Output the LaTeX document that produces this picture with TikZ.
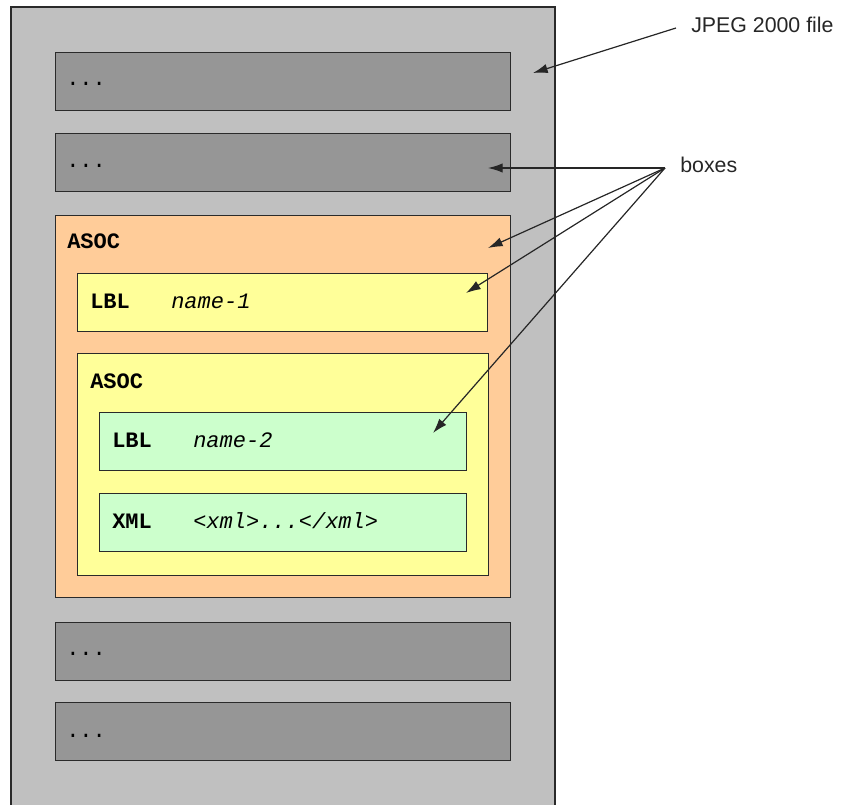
\documentclass[tikz,border=0pt]{standalone}
\usepackage{fontspec}
\setmainfont{Liberation Sans}
\newfontfamily\monofont{Liberation Mono}
\usetikzlibrary{arrows.meta}
\definecolor{outergrey}{HTML}{C0C0C0}
\definecolor{boxgrey}{HTML}{969696}
\definecolor{asocorange}{HTML}{FFCC99}
\definecolor{asocyellow}{HTML}{FFFF99}
\definecolor{lblgreen}{HTML}{CCFFCC}
\definecolor{edge}{HTML}{2A2A2A}
\tikzset{
  boxshape/.style={draw=edge, line width=1.1pt, anchor=north west, inner sep=0pt, rectangle},
  greybox/.style={boxshape, fill=boxgrey, minimum width=455*0.75pt, minimum height=58*0.75pt},
  monotext/.style={anchor=base west, inner sep=0pt, font=\monofont\fontsize{16.5}{19}\selectfont},
  tagtext/.style={monotext, font=\monofont\bfseries\fontsize{16.5}{19}\selectfont},
  nametext/.style={monotext, font=\monofont\itshape\fontsize{16.5}{19}\selectfont},
  calltext/.style={anchor=base west, inner sep=0pt, font=\fontsize{16}{19}\selectfont, text=black!85},
  pointer/.style={draw=black!85, line width=0.9pt, -{Latex[length=11pt, width=7pt]}}
}
\begin{document}
\begin{tikzpicture}[x=0.75pt, y=-0.75pt]
\useasboundingbox (0,0) rectangle (841,805);
% outer file
\node[boxshape, fill=outergrey, line width=1.3pt, minimum width=544*0.75pt, minimum height=815*0.75pt] (file) at (10,6) {};
% grey boxes
\node[greybox] (b1) at (55,52) {};
\node[greybox] (b2) at (55,133) {};
\node[greybox] (b4) at (55,622) {};
\node[greybox] (b5) at (55,702) {};
\node[monotext] (d1) at (66,86) {...};
\node[monotext] (d2) at (66,168) {...};
\node[monotext] (d4) at (66,655) {...};
\node[monotext] (d5) at (66,737) {...};
% ASOC outer
\node[boxshape, fill=asocorange, minimum width=455*0.75pt, minimum height=382*0.75pt] (asoc1) at (55,215) {};
\node[tagtext] (asoc1t) at (67,249) {ASOC};
\node[boxshape, fill=asocyellow, minimum width=410*0.75pt, minimum height=58*0.75pt] (lbl1) at (77,273) {};
\node[tagtext] (lbl1t) at (90,308) {LBL};
\node[nametext] (lbl1n) at (171,308) {name-1};
% ASOC inner
\node[boxshape, fill=asocyellow, minimum width=411*0.75pt, minimum height=222*0.75pt] (asoc2) at (77,353) {};
\node[tagtext] (asoc2t) at (90,388) {ASOC};
\node[boxshape, fill=lblgreen, minimum width=367*0.75pt, minimum height=58*0.75pt] (lbl2) at (99,412) {};
\node[tagtext] (lbl2t) at (112,447) {LBL};
\node[nametext] (lbl2n) at (193,447) {name-2};
\node[boxshape, fill=lblgreen, minimum width=367*0.75pt, minimum height=58*0.75pt] (xml) at (99,493) {};
\node[tagtext] (xmlt) at (112,528) {XML};
\node[nametext] (xmln) at (193,528) {<xml>...</xml>};
% callouts
\node[calltext] (jpeg) at (691,33) {JPEG 2000 file};
\node[calltext] (boxes) at (680,173) {boxes};
\coordinate (jpegtail) at (676,28);
\coordinate (hub) at (665,168);
\coordinate (tfile) at (533,73);
\coordinate (tb2) at (488,168);
\coordinate (tasoc) at (488,248);
\coordinate (tlbl1) at (466,293);
\coordinate (tlbl2) at (433,433);
\draw[pointer] (jpegtail) -- (tfile);
\draw[pointer] (hub) -- (tb2);
\draw[pointer] (hub) -- (tasoc);
\draw[pointer] (hub) -- (tlbl1);
\draw[pointer] (hub) -- (tlbl2);
\end{tikzpicture}
\end{document}
